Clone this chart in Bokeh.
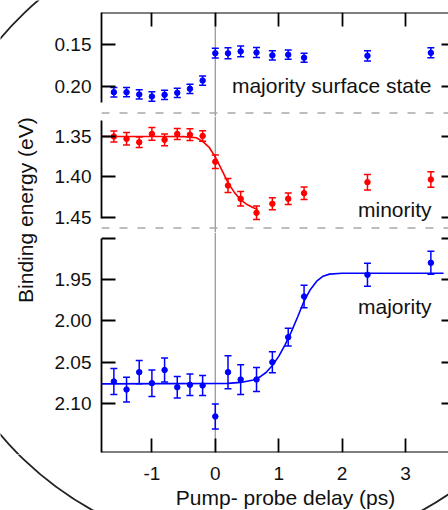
import numpy as np
from bokeh.plotting import figure
from bokeh.models import (Range1d, LinearAxis, FixedTicker, PrintfTickFormatter, Span,
                          Whisker, TeeHead, ColumnDataSource, Label)
from bokeh.layouts import row, column
from bokeh.embed import file_html
from bokeh.resources import INLINE

# ---------------- data ----------------
delay = [-1.6, -1.4, -1.2, -1.0, -0.8, -0.6, -0.4, -0.2, 0.0,
         0.2, 0.4, 0.65, 0.9, 1.15, 1.4, 2.4, 3.4]

surface_energy = [0.2068, 0.2068, 0.2095, 0.2119, 0.2099, 0.2075, 0.2027, 0.1929, 0.1604,
                  0.1605, 0.1582, 0.1596, 0.1629, 0.1621, 0.1657, 0.1635, 0.1599]
surface_err = [0.0056, 0.0055, 0.0055, 0.0056, 0.0055, 0.0055, 0.0055, 0.0055, 0.0058,
               0.0065, 0.0065, 0.0060, 0.0055, 0.0055, 0.0054, 0.0060, 0.0060]

minority_energy = [1.3500, 1.3529, 1.3570, 1.3468, 1.3541, 1.3468, 1.3477, 1.3493, 1.3811,
                   1.4105, 1.4269, 1.4442, 1.4331, 1.4269, 1.4200, 1.4064, 1.4031]
minority_err = [0.0068, 0.0077, 0.0065, 0.0078, 0.0072, 0.0068, 0.0072, 0.0065, 0.0083,
                0.0086, 0.0089, 0.0083, 0.0074, 0.0070, 0.0078, 0.0095, 0.0096]

majority_energy = [2.0734, 2.0831, 2.0621, 2.0754, 2.0595, 2.0803, 2.0774, 2.0782, 2.1157,
                   2.0621, 2.0710, 2.0710, 2.0500, 2.0198, 1.9706, 1.9443, 1.9298]
majority_err = [0.0157, 0.0150, 0.0140, 0.0160, 0.0146, 0.0130, 0.0130, 0.0120, 0.0150,
                0.0200, 0.0180, 0.0145, 0.0127, 0.0107, 0.0135, 0.0140, 0.0140]

minority_fit_delay = [-1.8, -0.8, -0.5, -0.4, -0.3, -0.2, -0.1, 0.0, 0.1, 0.2, 0.3, 0.4, 0.5, 0.6, 0.67]
minority_fit_energy = [1.350, 1.350, 1.3502, 1.3508, 1.3515, 1.356, 1.363, 1.3755, 1.391, 1.407,
                       1.419, 1.428, 1.434, 1.438, 1.440]

majority_fit_delay = [-1.8, 0.2, 0.4, 0.6, 0.7, 0.8, 0.9, 1.0, 1.1, 1.2, 1.3, 1.4, 1.5, 1.6,
                      1.7, 1.8, 2.0, 2.3, 3.6]
majority_fit_energy = [2.0762, 2.0757, 2.0745, 2.0715, 2.068, 2.0625, 2.054, 2.043, 2.029, 2.013,
                       1.995, 1.976, 1.962, 1.952, 1.946, 1.9435, 1.9425, 1.9424, 1.9424]

x_ticks = [-1, 0, 1, 2, 3]
surface_ticks = [0.15, 0.20]
minority_ticks = [1.35, 1.40, 1.45]
majority_ticks = [1.95, 2.00, 2.05, 2.10]
majority_unlabeled_ticks = [1.90]

surface_label = "majority surface state"
minority_label = "minority"
majority_label = "majority"
x_title = "Pump- probe delay (ps)"
y_title = "Binding energy  (eV)"

# ---------------- styling / geometry ----------------
FONT = "Liberation Sans"
TXT = "#111111"
BLUE = "#0000ff"
RED = "#ff0000"
LW = 1.8
TICK_FONT = "19px"
LABEL_FONT = "21px"

X0, X1 = -1.795, 3.678          # frame spans page x 101..448
FRAME_L, FRAME_R = 101, 448
SCALE = (FRAME_R - FRAME_L) / (X1 - X0)
x_range = Range1d(X0, X1)
PANEL_W = 400
LEFT_W = 48
BORDER_L = FRAME_L - LEFT_W

# panel frames (page px): f1 12..116, f2 116..232, f3 232..452
f1_range = (0.235714, 0.111905)
f2_range = (1.468519, 1.325309)
f3_range = (2.159270, 1.893150)


def panel(height, yr, border_top=0, border_bottom=0):
    p = figure(width=PANEL_W, height=height, x_range=x_range,
               y_range=Range1d(yr[0], yr[1]),
               output_backend="svg", toolbar_location=None,
               x_axis_location=None, y_axis_location=None,
               min_border_left=BORDER_L, min_border_right=0,
               min_border_top=border_top, min_border_bottom=border_bottom)
    p.outline_line_color = None
    p.grid.visible = False
    p.background_fill_color = "white"
    p.border_fill_color = "white"
    p.add_layout(Span(location=0, dimension="height", line_color="#9a9a9a",
                      line_width=1.3, level="underlay"))
    return p


def tick_axis(ticks, loc, tick_in, line=False):
    """Axis that only draws (inward) tick marks, fixed at a frame edge."""
    ax = LinearAxis(ticker=FixedTicker(ticks=ticks), fixed_location=loc)
    ax.axis_line_color = "black" if line else None
    ax.axis_line_width = LW
    ax.major_tick_in = tick_in
    ax.major_tick_out = 0
    ax.minor_tick_in = 0
    ax.minor_tick_out = 0
    ax.major_tick_line_width = LW
    ax.major_tick_line_color = "black"
    ax.major_label_text_color = None
    return ax


def add_y_axes(p, ticks, bounds, extra_ticks=None):
    left = LinearAxis(ticker=FixedTicker(ticks=ticks), bounds=bounds,
                      formatter=PrintfTickFormatter(format="%.2f"))
    left.major_tick_in = 14
    left.major_tick_out = 0
    left.minor_tick_in = 0
    left.minor_tick_out = 0
    left.axis_line_width = LW
    left.major_tick_line_width = LW
    left.axis_line_color = "black"
    left.major_tick_line_color = "black"
    left.major_label_standoff = 10
    left.major_label_text_font = FONT
    left.major_label_text_font_size = TICK_FONT
    left.major_label_text_color = TXT
    p.add_layout(left, "left")
    if extra_ticks:
        p.add_layout(tick_axis(extra_ticks, X0, 14), "left")
    all_ticks = ticks + (extra_ticks or [])
    p.add_layout(tick_axis(all_ticks, X1, 7), "right")


def add_series(p, energy, err, color, fit_x=None, fit_y=None):
    src = ColumnDataSource(dict(
        x=delay, y=energy,
        lo=[e - d for e, d in zip(energy, err)],
        hi=[e + d for e, d in zip(energy, err)]))
    if fit_x is not None:
        p.line(fit_x, fit_y, line_color=color, line_width=1.6)
    p.add_layout(Whisker(base="x", upper="hi", lower="lo", source=src, dimension="height",
                         line_color=color, line_width=1.5,
                         upper_head=TeeHead(size=7, line_color=color, line_width=1.5),
                         lower_head=TeeHead(size=7, line_color=color, line_width=1.5)))
    p.scatter("x", "y", source=src, size=5.5, color=color)


def panel_label(p, text, y):
    p.add_layout(Label(x=3.41, y=y, text=text, text_align="right", text_baseline="alphabetic",
                       text_font=FONT, text_font_size=LABEL_FONT, text_color=TXT))


def dashed(p, loc):
    p.add_layout(Span(location=loc, dimension="width", line_color="#a8a8a8",
                      line_width=1.5, line_dash="8 10", level="underlay"))


# ---- top panel: majority surface state ----
f1 = panel(116, f1_range, border_top=12)
add_y_axes(f1, surface_ticks, (f1_range[1], 0.2187))
f1.add_layout(tick_axis(x_ticks, f1_range[1], 14, line=True), "above")
dashed(f1, 0.23155)
add_series(f1, surface_energy, surface_err, BLUE)
panel_label(f1, surface_label, 0.1988)

# ---- middle panel: minority ----
f2 = panel(116, f2_range)
add_y_axes(f2, minority_ticks, (1.3302, 1.4516))
dashed(f2, 1.46296)
add_series(f2, minority_energy, minority_err, RED, minority_fit_delay, minority_fit_energy)
panel_label(f2, minority_label, 1.4397)

# ---- bottom panel: majority ----
f3 = panel(222, f3_range, border_bottom=2)
add_y_axes(f3, majority_ticks, (1.90, f3_range[0]), extra_ticks=majority_unlabeled_ticks)
f3.add_layout(tick_axis(x_ticks, f3_range[0], 14, line=True), "below")
add_series(f3, majority_energy, majority_err, BLUE, majority_fit_delay, majority_fit_energy)
panel_label(f3, majority_label, 1.9826)

# ---- left strip with the y title (coordinates = page pixels) ----
H_TOP = 116 + 116 + 222
lab = figure(width=LEFT_W, height=H_TOP, x_range=Range1d(0, LEFT_W),
             y_range=Range1d(H_TOP, 0), output_backend="svg", toolbar_location=None,
             x_axis_location=None, y_axis_location=None,
             min_border_left=0, min_border_right=0, min_border_top=0, min_border_bottom=0)
lab.outline_line_color = None
lab.grid.visible = False
lab.add_layout(Label(x=25, y=206.7, text=y_title, angle=np.pi / 2, text_align="center",
                     text_baseline="alphabetic", text_font=FONT, text_font_size=LABEL_FONT,
                     text_color=TXT))

# ---- bottom strip: x tick labels and x title ----
H_BOT = 510 - H_TOP
bot = figure(width=LEFT_W + PANEL_W, height=H_BOT,
             x_range=Range1d(X0 - FRAME_L / SCALE, X1),
             y_range=Range1d(510, H_TOP), output_backend="svg", toolbar_location=None,
             x_axis_location=None, y_axis_location=None,
             min_border_left=0, min_border_right=0, min_border_top=0, min_border_bottom=0)
bot.outline_line_color = None
bot.grid.visible = False
xl = LinearAxis(ticker=FixedTicker(ticks=x_ticks), fixed_location=H_TOP,
                formatter=PrintfTickFormatter(format="%d"))
xl.axis_line_color = None
xl.major_tick_in = 0
xl.major_tick_out = 0
xl.minor_tick_in = 0
xl.minor_tick_out = 0
xl.major_label_standoff = 12
xl.major_label_text_font = FONT
xl.major_label_text_font_size = TICK_FONT
xl.major_label_text_color = TXT
bot.add_layout(xl, "below")
bot.add_layout(Label(x=X0 + (285 - FRAME_L) / SCALE, y=496.5, text=x_title, text_align="center",
                     text_baseline="alphabetic", text_font=FONT, text_font_size=LABEL_FONT,
                     text_color=TXT))

# ---- decorative round frame around the figure (page-pixel geometry) ----
ELL_CX, ELL_CY, ELL_W, ELL_H = 257, 236, 660, 632
lab.ellipse(x=[ELL_CX], y=[ELL_CY], width=[ELL_W], height=[ELL_H],
            fill_color=None, line_color="#222222", line_width=1.8)
bot.ellipse(x=[X0 + (ELL_CX - FRAME_L) / SCALE], y=[ELL_CY], width=[ELL_W / SCALE],
            height=[ELL_H], fill_color=None, line_color="#222222", line_width=1.8)

layout = column(row(lab, column(f1, f2, f3)), bot)

open("out.html", "w").write(file_html(layout, INLINE))
